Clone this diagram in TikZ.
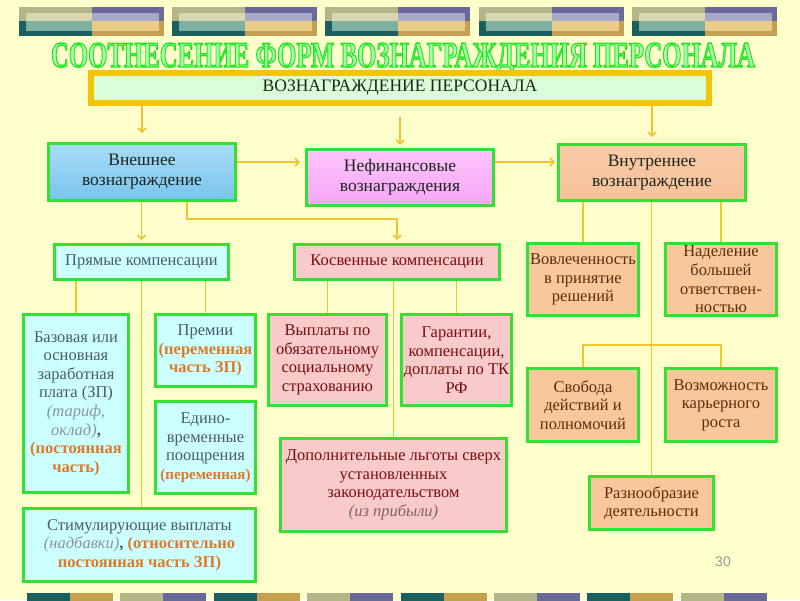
\documentclass[tikz,border=0pt]{standalone}
\usepackage{fontspec}
\setmainfont{Liberation Serif}
\setsansfont{Liberation Sans}
\usepackage{tikz}
\usetikzlibrary{arrows.meta, backgrounds}
\definecolor{bgYellow}{HTML}{FFFFCC}
\definecolor{cGold}{HTML}{F5C400}
\definecolor{cLine}{HTML}{EEC431}
\definecolor{cGreen}{HTML}{33E033}
\definecolor{cTitleIn}{HTML}{A8FFA8}
\definecolor{cInk}{HTML}{1C261C}
\definecolor{cSlate}{HTML}{4B5A68}
\definecolor{cOrange}{HTML}{DD7A2A}
\definecolor{cItal}{HTML}{8C949C}
\definecolor{cRed}{HTML}{7A0E0E}
\definecolor{cItalRed}{HTML}{806464}
\definecolor{cBrown}{HTML}{5A2E0C}
\definecolor{cCyan}{HTML}{CCFFFF}
\definecolor{cPink}{HTML}{F9CACA}
\definecolor{cPeach}{HTML}{F8C89A}
\definecolor{gBlueT}{HTML}{A8DCF5}
\definecolor{gBlueM}{HTML}{E6F5FC}
\definecolor{gBlueB}{HTML}{78C4EE}
\definecolor{gPinkT}{HTML}{FFC4FF}
\definecolor{gPinkM}{HTML}{FFF0FF}
\definecolor{gPinkB}{HTML}{F4A6F4}
\definecolor{gPeachT}{HTML}{F9CBA6}
\definecolor{gPeachM}{HTML}{FFF5EC}
\definecolor{gPeachB}{HTML}{F6C29C}
% stripes of the slide frame
\definecolor{bOlive}{HTML}{B5B58A}
\definecolor{bOliveL}{HTML}{D8D8B0}
\definecolor{bTeal}{HTML}{1B6060}
\definecolor{bTealL}{HTML}{80B0A2}
\definecolor{bPurple}{HTML}{6A6A9A}
\definecolor{bPurpleL}{HTML}{A8A8C8}
\definecolor{bOchre}{HTML}{C4A050}
\definecolor{bOchreL}{HTML}{E8CC88}
\newcommand{\orng}[1]{{\bfseries\color{cOrange}#1}}
\newcommand{\grit}[1]{{\itshape\color{cItal}#1}}
% outlined title: fill + stroke render mode
\newcommand{\titlestr}{\resizebox{704pt}{24pt}{\bfseries\color{cTitleIn}%
  \special{pdf:literal direct 0.13 0.9 0.13 RG 0.38 w 2 Tr}%
  СООТНЕСЕНИЕ ФОРМ ВОЗНАГРАЖДЕНИЯ ПЕРСОНАЛА%
  \special{pdf:literal direct 0 Tr}}}
\tikzset{
  card/.style={draw=cGreen, line width=3pt, inner sep=0pt, align=center,
    font=\fontsize{16.5}{18.6}\selectfont},
  bluecard/.style={card, fill=cCyan, text=cSlate},
  pinkcard/.style={card, fill=cPink, text=cRed},
  peachcard/.style={card, fill=cPeach, text=cBrown},
  headcard/.style={card, text=cInk, font=\fontsize{17.5}{20}\selectfont},
  link/.style={draw=cLine, line width=1.5pt},
  arr/.style={link, -{Straight Barb[length=4pt,width=8pt]}},
}

\begin{document}
\begin{tikzpicture}[x=1pt, y=-1pt]
  \useasboundingbox (0,0) rectangle (800,600);

  % frame stripes
  \foreach \i in {0,...,4} {
    \begin{scope}[shift={(19+153.2*\i,7)}]
      \fill[bOlive] (0,0) rectangle (73,14);
      \fill[bTeal] (0,14) rectangle (73,29);
      \fill[bPurple] (73,0) rectangle (145,14);
      \fill[bOchre] (73,14) rectangle (145,29);
      \fill[bOliveL] (7,6) rectangle (73,14);
      \fill[bTealL] (7,14) rectangle (73,24);
      \fill[bPurpleL] (73,6) rectangle (140,14);
      \fill[bOchreL] (73,14) rectangle (140,24);
    \end{scope}
  }
  \foreach \i in {0,...,7} {
    \pgfmathsetmacro{\bx}{27+93.4*\i}
    \ifodd\i
      \fill[bOlive] (\bx,593) rectangle ++(43,8);
      \fill[bPurple] (\bx+43,593) rectangle ++(43,8);
    \else
      \fill[bTeal] (\bx,593) rectangle ++(43,8);
      \fill[bOchre] (\bx+43,593) rectangle ++(43,8);
    \fi
  }

  % title
  \node[anchor=base, inner sep=0pt] (title) at (403,67) {\titlestr};

  \node[draw=cGold, line width=6pt, minimum width=618, minimum height=30,
    top color=cTitleIn!45, middle color=white, bottom color=cTitleIn!45,
    font=\fontsize{17.5}{20}\selectfont, text=cInk] (top) at (400,88) {ВОЗНАГРАЖДЕНИЕ ПЕРСОНАЛА};

  % three kinds of reward
  \node[headcard, minimum width=187, minimum height=57,
    top color=gBlueT, middle color=gBlueM, bottom color=gBlueB]
    (ext) at (142,172) {Внешнее\\вознаграждение};
  \node[headcard, minimum width=187, minimum height=56,
    top color=gPinkT, middle color=gPinkM, bottom color=gPinkB]
    (nonfin) at (400,177.5) {Нефинансовые\\вознаграждения};
  \node[headcard, minimum width=187, minimum height=56,
    top color=gPeachT, middle color=gPeachM, bottom color=gPeachB]
    (int) at (652,172.5) {Внутреннее\\вознаграждение};

  % direct compensation
  \node[bluecard, minimum width=174, minimum height=35] (direct) at (141.5,262) {Прямые компенсации};
  \node[bluecard, minimum width=105, minimum height=178] (base) at (76,403.5)
    {Базовая или\\основная\\заработная\\плата (ЗП)\\\grit{(тариф,}\\\grit{оклад)}\textbf{,}\\\orng{(постоянная}\\\orng{часть)}};
  \node[bluecard, minimum width=100, minimum height=72] (bonus) at (205.5,350.5)
    {Премии\\\orng{(переменная}\\\orng{часть ЗП)}};
  \node[bluecard, minimum width=100, minimum height=92] (onetime) at (205.5,447.5)
    {Едино-\\временные\\поощрения\\{\fontsize{15}{18.6}\selectfont\orng{(переменная)}}};
  \node[bluecard, minimum width=232, minimum height=73] (stim) at (139.5,545)
    {Стимулирующие выплаты\\\grit{(надбавки)}\textbf{,} \orng{(относительно}\\\orng{постоянная часть ЗП)}};

  % indirect compensation
  \node[pinkcard, minimum width=205, minimum height=35] (indirect) at (397,262) {Косвенные компенсации};
  \node[pinkcard, minimum width=118, minimum height=91] (social) at (327.5,360)
    {Выплаты по\\обязательному\\социальному\\страхованию};
  \node[pinkcard, minimum width=110, minimum height=91] (guar) at (456.5,360)
    {Гарантии,\\компенсации,\\доплаты по ТК\\РФ};
  \node[pinkcard, minimum width=226, minimum height=93] (extra) at (393.5,485)
    {Дополнительные льготы сверх\\установленных\\законодательством\\{\itshape\color{cItalRed}(из прибыли)}};

  % internal reward
  \node[peachcard, minimum width=111, minimum height=72] (involve) at (583,279.5)
    {Вовлеченность\\в принятие\\решений};
  \node[peachcard, minimum width=111, minimum height=72] (resp) at (721,279.5)
    {Наделение\\большей\\ответствен-\\ностью};
  \node[peachcard, minimum width=111, minimum height=73] (freedom) at (583,405)
    {Свобода\\действий и\\полномочий};
  \node[peachcard, minimum width=111, minimum height=73] (career) at (721,405)
    {Возможность\\карьерного\\роста};
  \node[peachcard, minimum width=124, minimum height=53] (variety) at (651.5,503)
    {Разнообразие\\деятельности};

  \node[font=\sffamily\fontsize{14}{16}\selectfont, text=black!40] (pagenum) at (723,562) {30};

  \begin{scope}[on background layer]
    \fill[bgYellow] (0,0) rectangle (800,600);
    \draw[arr, shorten >=9pt] (top.south -| ext) -- (ext.north);
    \draw[arr, shorten <=11pt, shorten >=3pt] (top.south -| nonfin) -- (nonfin.north);
    \draw[arr, shorten >=6pt] (top.south -| int) -- (int.north);
    \draw[arr, shorten >=5pt] ([yshift=10pt]ext.east) -- ([yshift=10pt]ext.east -| nonfin.west);
    \draw[arr, shorten >=2pt] ([yshift=10pt]ext.east -| nonfin.east) -- ([yshift=10pt]ext.east -| int.west);
    \draw[arr, shorten >=3pt] (ext.south -| direct) -- (direct.north);
    \draw[arr, shorten >=3pt] ([xshift=45pt]ext.south) -- ++(0,17) -| (indirect.north);
    \draw[link] (direct.south -| base) -- (base.north);
    \draw[link] (direct.south) -- (direct.south |- stim.north);
    \draw[link] (direct.south -| bonus) -- (bonus.north);
    \draw[link] (indirect.south -| social) -- (social.north);
    \draw[link] (indirect.south -| extra) -- (extra.north);
    \draw[link] (indirect.south -| guar) -- (guar.north);
    \draw[link] (int.south -| involve) -- (involve.north);
    \draw[link] (int.south -| resp) -- (resp.north);
    \draw[link] (int.south -| variety) -- (variety.north);
    \coordinate (fork) at (653,345);
    \draw[link] (freedom.north) |- (fork) -| (career.north);
  \end{scope}
\end{tikzpicture}
\end{document}
